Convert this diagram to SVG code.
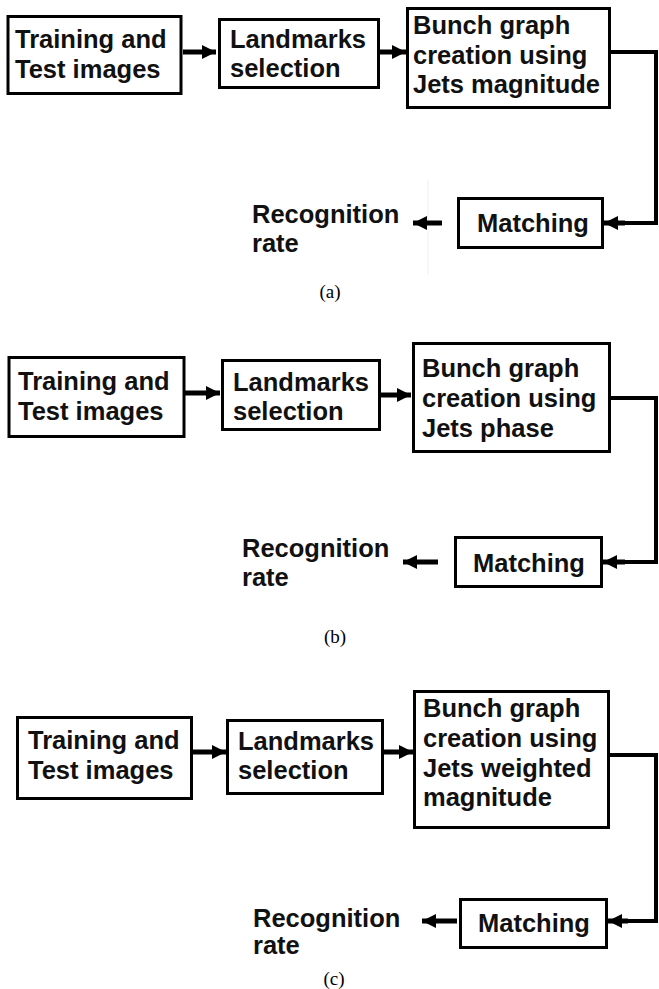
<svg xmlns="http://www.w3.org/2000/svg" width="659" height="989" viewBox="0 0 659 989">
<style>
.box{fill:#fff;stroke:#000;stroke-width:3}
.t{font-family:"Liberation Sans",Arial,sans-serif;font-weight:bold;font-size:25.5px;fill:#111}
.cap{font-family:"Liberation Serif","Times New Roman",serif;font-size:19px;fill:#000;text-anchor:middle}
.ar{fill:none;stroke:#000;stroke-width:5;marker-end:url(#ah)}
.cn{fill:none;stroke:#000;stroke-width:4;stroke-linejoin:miter}
</style>
<defs>
<marker id="ah" markerUnits="userSpaceOnUse" markerWidth="14" markerHeight="14" refX="14" refY="7" orient="auto">
<path d="M0,0 L14,7 L0,14 z" fill="#000"/>
</marker>
</defs>
<rect width="659" height="989" fill="#fff"/>

<!-- Panel (a) -->
<g id="a-train"><rect class="box" x="8" y="16.5" width="173" height="77"/><text class="t" x="15" y="48">Training and</text><text class="t" x="15" y="78">Test images</text></g>
<g id="a-land"><rect class="box" x="219.5" y="19.5" width="159" height="68"/><text class="t" x="230" y="48">Landmarks</text><text class="t" x="230" y="77">selection</text></g>
<g id="a-bunch"><rect class="box" x="407.5" y="8.5" width="202" height="99"/><text class="t" x="413" y="34">Bunch graph</text><text class="t" x="413" y="64">creation using</text><text class="t" x="413" y="93">Jets magnitude</text></g>
<g id="a-match"><rect class="box" x="458.5" y="198.5" width="144" height="49"/><text class="t" x="477" y="232">Matching</text></g>
<g id="a-rec"><text class="t" x="252" y="223">Recognition</text><text class="t" x="252" y="252">rate</text></g>
<line x1="428" y1="180" x2="428" y2="275" stroke="#f0f0f0" stroke-width="1"/>
<text class="cap" x="330" y="298">(a)</text>

<!-- Panel (b) -->
<g id="b-train"><rect class="box" x="9" y="357.5" width="175" height="79"/><text class="t" x="18" y="390">Training and</text><text class="t" x="18" y="420">Test images</text></g>
<g id="b-land"><rect class="box" x="222.5" y="360.5" width="157" height="69"/><text class="t" x="233" y="391">Landmarks</text><text class="t" x="233" y="420">selection</text></g>
<g id="b-bunch"><rect class="box" x="413.5" y="343.5" width="196" height="108"/><text class="t" x="422" y="377">Bunch graph</text><text class="t" x="422" y="407">creation using</text><text class="t" x="422" y="437">Jets phase</text></g>
<g id="b-match"><rect class="box" x="455.5" y="537.5" width="146" height="49"/><text class="t" x="473" y="572">Matching</text></g>
<g id="b-rec"><text class="t" x="242" y="557">Recognition</text><text class="t" x="242" y="586">rate</text></g>
<text class="cap" x="335" y="643">(b)</text>

<!-- Panel (c) -->
<g id="c-train"><rect class="box" x="17.5" y="717.5" width="174" height="81"/><text class="t" x="28" y="749">Training and</text><text class="t" x="28" y="779">Test images</text></g>
<g id="c-land"><rect class="box" x="227.5" y="720.5" width="155" height="73"/><text class="t" x="238" y="750">Landmarks</text><text class="t" x="238" y="779">selection</text></g>
<g id="c-bunch"><rect class="box" x="414.5" y="691.5" width="194" height="136"/><text class="t" x="423" y="717">Bunch graph</text><text class="t" x="423" y="747">creation using</text><text class="t" x="423" y="777">Jets weighted</text><text class="t" x="423" y="806">magnitude</text></g>
<g id="c-match"><rect class="box" x="460.5" y="899.5" width="146" height="48"/><text class="t" x="478" y="932">Matching</text></g>
<g id="c-rec"><text class="t" x="253" y="927">Recognition</text><text class="t" x="253" y="954">rate</text></g>
<text class="cap" x="334" y="985">(c)</text>

<g id="connectors">
<line class="ar" x1="183" y1="52" x2="216" y2="52"/>
<line class="ar" x1="380" y1="52" x2="406" y2="52"/>
<path class="cn" d="M610,52 H656 V223 H620"/>
<line class="ar" x1="625" y1="223" x2="604" y2="223"/>
<line class="ar" x1="442" y1="223" x2="413" y2="223"/>

<line class="ar" x1="185" y1="393" x2="220" y2="393"/>
<line class="ar" x1="380" y1="395" x2="411" y2="395"/>
<path class="cn" d="M610,398 H656 V562 H620"/>
<line class="ar" x1="625" y1="562" x2="603" y2="562"/>
<line class="ar" x1="438" y1="562" x2="403" y2="562"/>

<line class="ar" x1="192" y1="752" x2="226" y2="752"/>
<line class="ar" x1="383" y1="752" x2="413" y2="752"/>
<path class="cn" d="M609,755 H656 V921 H625"/>
<line class="ar" x1="628" y1="921" x2="608" y2="921"/>
<line class="ar" x1="457" y1="921" x2="422" y2="921"/>
</g>
</svg>
